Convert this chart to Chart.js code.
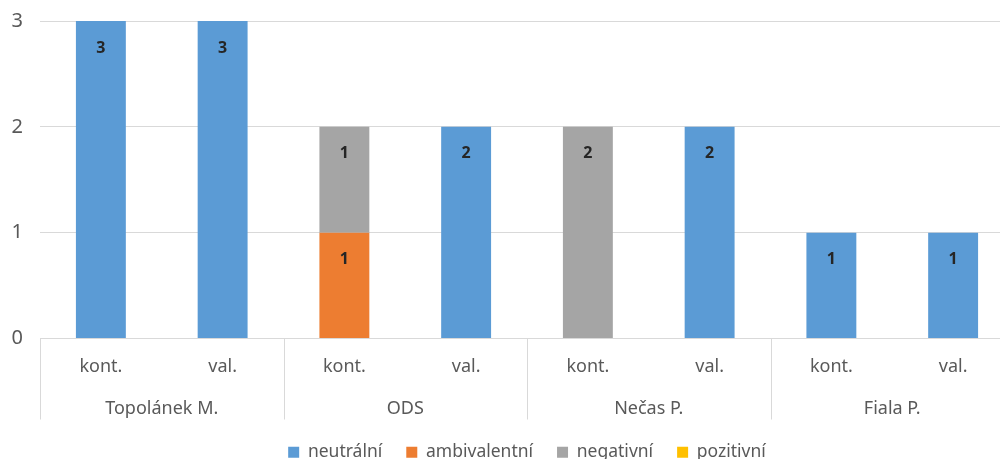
<!DOCTYPE html>
<html>
<head>
<meta charset="utf-8">
<script src="https://cdn.jsdelivr.net/npm/chart.js@4"></script>
<style>
  html, body { margin: 0; padding: 0; background: #fff; overflow: hidden; }
  #wrap { width: 1014px; height: 479px; margin-top: -8px; position: relative; }
</style>
</head>
<body>
<div id="wrap"><canvas id="chart"></canvas></div>
<script>
const groups = ['Topolánek M.', 'ODS', 'Nečas P.', 'Fiala P.'];
const subLabels = ['kont.', 'val.', 'kont.', 'val.', 'kont.', 'val.', 'kont.', 'val.'];
const neutralni = [3, 3, 0, 2, 0, 2, 1, 1];
const ambivalentni = [0, 0, 1, 0, 0, 0, 0, 0];
const negativni = [0, 0, 1, 0, 2, 0, 0, 0];
const pozitivni = [0, 0, 0, 0, 0, 0, 0, 0];
const yTicks = [0, 1, 2, 3];

const FONT = '"Noto Sans", "Open Sans", sans-serif';
const TEXT = '#595959';
const GRID = '#d9d9d9';

// popisky hodnot uvnitř sloupců
const valueLabels = {
    id: 'valueLabels',
    afterDatasetsDraw(chart) {
        const ctx = chart.ctx;
        ctx.save();
        ctx.font = 'bold 16px ' + FONT;
        ctx.fillStyle = '#262626';
        ctx.textAlign = 'center';
        ctx.textBaseline = 'middle';
        chart.data.datasets.forEach((ds, di) => {
            const meta = chart.getDatasetMeta(di);
            meta.data.forEach((bar, i) => {
                const v = ds.data[i];
                if (!v) return;
                ctx.fillText(String(v), bar.x, bar.y + 27);
            });
        });
        ctx.restore();
    }
};

// dvouúrovňová osa x
const groupAxis = {
    id: 'groupAxis',
    afterDraw(chart) {
        const ctx = chart.ctx;
        const x = chart.scales.x;
        const bottom = chart.chartArea.bottom;
        const step = x.getPixelForValue(1) - x.getPixelForValue(0);
        ctx.save();
        ctx.fillStyle = TEXT;
        ctx.font = '18px ' + FONT;
        ctx.textAlign = 'center';
        ctx.textBaseline = 'middle';
        subLabels.forEach((l, i) => {
            ctx.fillText(l, x.getPixelForValue(i), bottom + 28);
        });
        groups.forEach((g, gi) => {
            const cx = (x.getPixelForValue(gi * 2) + x.getPixelForValue(gi * 2 + 1)) / 2;
            ctx.fillText(g, cx, bottom + 70);
        });
        ctx.strokeStyle = GRID;
        ctx.lineWidth = 1;
        for (let gi = 0; gi <= groups.length; gi++) {
            const px = Math.round(x.getPixelForValue(gi * 2) - step / 2) + 0.5;
            ctx.beginPath();
            ctx.moveTo(px, bottom);
            ctx.lineTo(px, bottom + 81);
            ctx.stroke();
        }
        ctx.restore();
    }
};

const mk = (label, data, color) => ({
    label: label,
    data: data,
    backgroundColor: color,
    borderWidth: 0,
    barPercentage: 0.41,
    categoryPercentage: 1
});

new Chart(document.getElementById('chart'), {
    type: 'bar',
    data: {
        labels: subLabels.map((s, i) => groups[Math.floor(i / 2)] + ' ' + s),
        datasets: [
            mk('neutrální', neutralni, '#5b9bd5'),
            mk('ambivalentní', ambivalentni, '#ed7d31'),
            mk('negativní', negativni, '#a5a5a5'),
            mk('pozitivní', pozitivni, '#ffc000')
        ]
    },
    options: {
        animation: false,
        responsive: true,
        maintainAspectRatio: false,
        layout: { padding: { top: 13, left: 0, right: 0, bottom: 0 } },
        scales: {
            x: {
                stacked: true,
                ticks: { display: false },
                grid: { display: false },
                border: { color: GRID },
                afterFit(scale) { scale.height = 81; }
            },
            y: {
                stacked: true,
                min: 0,
                max: 3,
                afterBuildTicks(scale) { scale.ticks = yTicks.map(v => ({ value: v })); },
                ticks: {
                    color: TEXT,
                    font: { family: FONT, size: 20 },
                    padding: 17
                },
                grid: { color: GRID, drawTicks: false },
                border: { display: false },
                afterFit(scale) { scale.width = 40; }
            }
        },
        plugins: {
            tooltip: { enabled: false },
            legend: {
                position: 'bottom',
                fullSize: false,
                labels: {
                    color: TEXT,
                    font: { family: FONT, size: 17.5 },
                    boxWidth: 11,
                    boxHeight: 11,
                    padding: 24
                }
            }
        }
    },
    plugins: [valueLabels, groupAxis]
});
</script>
</body>
</html>
